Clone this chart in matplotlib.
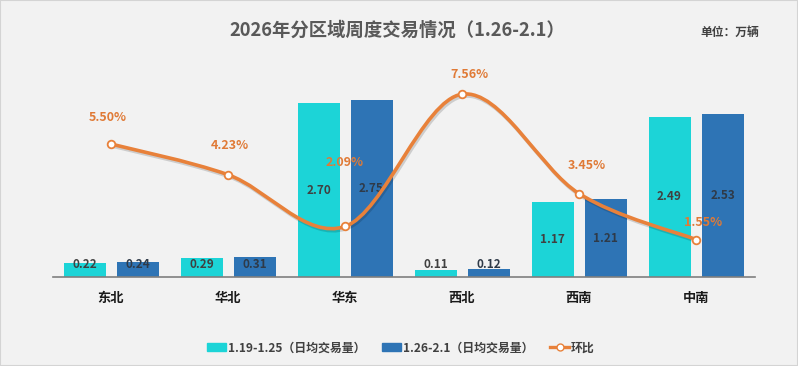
import matplotlib
matplotlib.use("Agg")
import matplotlib.pyplot as plt
from matplotlib.path import Path
from matplotlib.patches import PathPatch, Rectangle, Patch
from matplotlib.lines import Line2D
import matplotlib.patheffects as pe
import numpy as np

plt.rcParams['font.family'] = ['Noto Sans CJK SC', 'DejaVu Sans']

categories = ["东北", "华北", "华东", "西北", "西南", "中南"]
week1 = [0.22, 0.29, 2.70, 0.11, 1.17, 2.49]
week2 = [0.24, 0.31, 2.75, 0.12, 1.21, 2.53]
ratio = [5.50, 4.23, 2.09, 7.56, 3.45, 1.55]
series_names = ["1.19-1.25（日均交易量）", "1.26-2.1（日均交易量）", "环比"]
title = "2026年分区域周度交易情况（1.26-2.1）"
unit = "单位：万辆"

# label offsets (points) for ratio labels
lab_off = [(-2, 19), (1.5, 21), (-0.5, 46), (5, 14.5), (5.5, 20), (5, 12)]

C1 = "#1CD4D7"
C2 = "#2E74B5"
CL = "#E8813A"
CT = "#E07A36"
BG = "#F2F2F2"

W, H = 798, 366
fig = plt.figure(figsize=(W/100, H/100), dpi=100, facecolor=BG)
fig.patches.append(Rectangle((0, 0), 1, 1, transform=fig.transFigure,
                             fill=False, edgecolor="#D4D4D4", linewidth=1.5))

base_px = 277
top_px = 84
left_px, right_px = 52.5, 754.5
ax = fig.add_axes([left_px/W, (H-base_px)/H, (right_px-left_px)/W, (base_px-top_px)/H])
ax.set_facecolor("none")
ymax = (base_px-top_px)/64.3
ax.set_ylim(0, ymax)
ax.set_xlim(-0.5, len(categories)-0.5)

x = np.arange(len(categories))
bw = 42/117
off = 26.5/117
ax.bar(x-off, week1, bw, color=C1, label=series_names[0], zorder=2)
ax.bar(x+off, week2, bw, color=C2, label=series_names[1], zorder=2)

minlab = 13/64.3
for xi, v in zip(x-off, week1):
    ax.text(xi, max(v/2, minlab), f"{v:.2f}", ha="center", va="center",
            fontsize=8.5, fontweight="bold", color="#404040", zorder=3)
for xi, v in zip(x+off, week2):
    ax.text(xi, max(v/2, minlab), f"{v:.2f}", ha="center", va="center",
            fontsize=8.5, fontweight="bold", color="#2F3A48", zorder=3)

for s in ["top", "right", "left"]:
    ax.spines[s].set_visible(False)
ax.spines["bottom"].set_color("#7F7F7F")
ax.spines["bottom"].set_linewidth(1.2)
ax.set_yticks([])
ax.set_xticks(x)
ax.set_xticklabels(categories, fontsize=9.5, fontweight="bold", color="#1A1A1A")
ax.tick_params(axis="x", length=0, pad=10)

ax2 = ax.twinx()
ax2.set_ylim(0, (base_px-top_px)/24.18)
ax2.axis("off")

# smooth curve (cardinal spline rendered as Bezier path)
pts = np.column_stack([x, ratio]).astype(float)
ext = np.vstack([pts[0], pts, pts[-1]])
verts = [tuple(pts[0])]
codes = [Path.MOVETO]
for i in range(len(pts)-1):
    p0, p1, p2, p3 = ext[i], ext[i+1], ext[i+2], ext[i+3]
    c1 = p1 + (p2 - p0)/6
    c2 = p2 - (p3 - p1)/6
    verts += [tuple(c1), tuple(c2), tuple(p2)]
    codes += [Path.CURVE4]*3
patch = PathPatch(Path(verts, codes), fill=False, edgecolor=CL, linewidth=2.6,
                  zorder=4, capstyle="round",
                  path_effects=[pe.SimpleLineShadow(offset=(1, -1.5), shadow_color="#000000", alpha=0.15), pe.Normal()])
ax2.add_patch(patch)
ax2.plot(x, ratio, linestyle="none", marker="o", markersize=5.5,
         markerfacecolor="white", markeredgecolor=CL, markeredgewidth=1.3, zorder=5)
for xi, v, (dx, dy) in zip(x, ratio, lab_off):
    ax2.annotate(f"{v:.2f}%", (xi, v), xytext=(dx, dy), textcoords="offset points",
                 ha="center", va="center", fontsize=9, fontweight="bold", color=CT, zorder=6)

fig.text(397, H-30, title, transform=None, ha="center", va="center",
         fontsize=13.2, fontweight="bold", color="#595959")
fig.text(730, H-32, unit, transform=None, ha="center", va="center",
         fontsize=8.5, fontweight="bold", color="#404040")

# legend
handles = [Patch(color=C1), Patch(color=C2),
           Line2D([0], [0], color=CL, lw=2.4, marker="o", markersize=5,
                  markerfacecolor="white", markeredgecolor=CL)]
leg = fig.legend(handles, series_names, loc="center", bbox_to_anchor=(401/W, (H-348)/H),
                 ncol=3, frameon=False, fontsize=8.6, handlelength=1.55, handleheight=0.6,
                 columnspacing=1.4, handletextpad=0.2)
for t in leg.get_texts():
    t.set_fontweight("bold")
    t.set_color("#404040")

fig.savefig("out.png", dpi=100, facecolor=BG)
